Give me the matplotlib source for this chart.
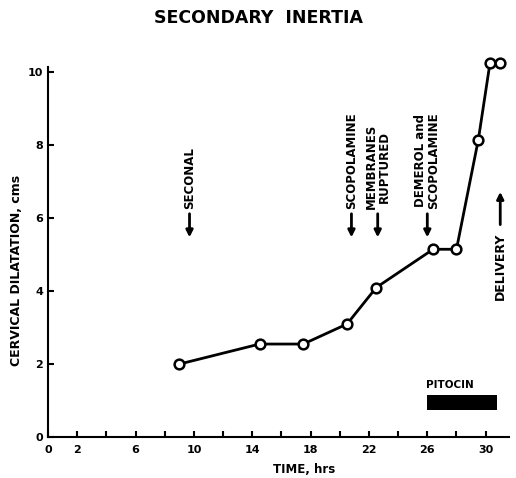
import matplotlib
matplotlib.use("Agg")
import matplotlib.pyplot as plt
from matplotlib.ticker import MultipleLocator

# data
time_hrs = [9.0, 14.5, 17.5, 20.5, 22.5, 26.4, 28.0, 29.5, 30.3, 31.0]
dilatation_cm = [2.0, 2.55, 2.55, 3.1, 4.1, 5.15, 5.15, 8.16, 10.27, 10.27]

x_ticks = [0, 2, 6, 10, 14, 18, 22, 26, 30]
y_ticks = [0, 2, 4, 6, 8, 10]

events = ["SECONAL", "SCOPOLAMINE", "MEMBRANES\nRUPTURED", "DEMEROL and\nSCOPOLAMINE"]
event_times = [9.7, 20.8, 22.6, 26.0]
pitocin_start, pitocin_end = 26.0, 30.75
delivery_time = 31.0

plt.rcParams['font.family'] = 'DejaVu Sans'
plt.rcParams['font.weight'] = 'bold'

fig = plt.figure(figsize=(5.16, 4.78), dpi=100)
ax = fig.add_axes([48 / 516, 1 - 437 / 478, 461 / 516, 370 / 478])

ax.plot(time_hrs, dilatation_cm, color='black', lw=2, marker='o', ms=7,
        mfc='white', mec='black', mew=1.8, clip_on=False, zorder=3)

ax.set_xlim(0, 31.6)
ax.set_ylim(0, 10.15)
ax.spines['top'].set_visible(False)
ax.spines['right'].set_visible(False)
ax.spines['left'].set_linewidth(1.5)
ax.spines['bottom'].set_linewidth(1.5)

ax.set_xticks(x_ticks)
ax.xaxis.set_minor_locator(MultipleLocator(2))
ax.set_yticks(y_ticks)
ax.tick_params(axis='both', which='both', direction='in', length=4, width=1.5,
               labelsize=8)
ax.tick_params(axis='x', pad=6)
for lab in ax.get_xticklabels() + ax.get_yticklabels():
    lab.set_fontweight('bold')

ax.set_xlabel("TIME, hrs", fontsize=8.5, fontweight='bold')
ax.xaxis.set_label_coords(0.555, -0.07)
ax.set_ylabel("CERVICAL DILATATION, cms", fontsize=9, fontweight='bold')
ax.yaxis.set_label_coords(-0.055, 0.45)
fig.suptitle("SECONDARY  INERTIA", x=0.5, y=0.982, fontsize=12.5, fontweight='bold')

# event arrows pointing down
for label, t in zip(events, event_times):
    ax.annotate("", xy=(t, 5.4), xytext=(t, 6.2),
                arrowprops=dict(arrowstyle='-|>', color='black', lw=2,
                                mutation_scale=10))
    ax.text(t, 6.25, label, rotation=90, ha='center', va='bottom',
            fontsize=8.5, fontweight='bold', linespacing=1.0)

# delivery arrow pointing up
ax.annotate("", xy=(delivery_time, 6.8), xytext=(delivery_time, 5.75),
            arrowprops=dict(arrowstyle='-|>', color='black', lw=2,
                            mutation_scale=10), annotation_clip=False)
ax.text(delivery_time, 5.6, "DELIVERY", rotation=90, ha='center', va='top',
        fontsize=9, fontweight='bold', clip_on=False)

# pitocin bar
ax.barh(0.95, pitocin_end - pitocin_start, left=pitocin_start, height=0.42,
        color='black')
ax.text(pitocin_start - 0.1, 1.3, "PITOCIN", ha='left', va='bottom', fontsize=7.5,
        fontweight='bold')

fig.savefig("out.png", dpi=100)
